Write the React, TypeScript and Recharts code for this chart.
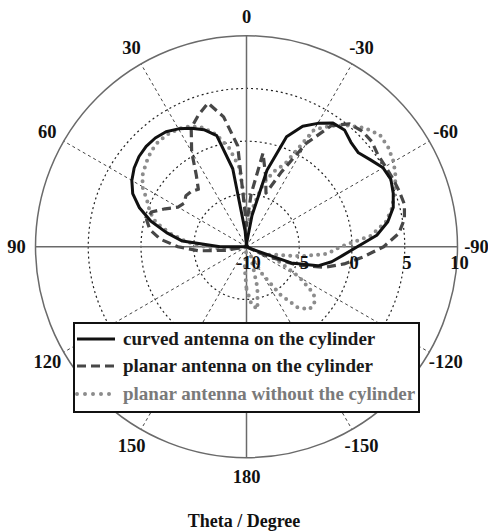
import React from 'react';
import {
  RadarChart,
  Radar,
  PolarGrid,
  PolarAngleAxis,
  PolarRadiusAxis,
  Legend,
} from 'recharts';

// theta in degrees, 0 at the top, positive counter-clockwise
const THETA = [
  -180, -175, -170, -165, -160, -155, -150, -145, -140, -135, -130, -125,
  -120, -115, -110, -105, -100, -95, -90, -85, -80, -75, -70, -65,
  -60, -55, -50, -45, -40, -35, -30, -25, -20, -15, -10, -5,
  0, 5, 10, 15, 20, 25, 30, 35, 40, 45, 50, 55,
  60, 65, 70, 75, 80, 85, 90, 95, 100, 105, 110, 115,
  120, 125, 130, 135, 140, 145, 150, 155, 160, 165, 170, 175,
];

// gain in dB
const CURVED = [
  -10, -10, -10, -10, -10, -10, -10, -10, -10, -10, -10, -10,
  -10, -9.5, -5.5, -3.0, -1.8, -0.8, 0.5, 2.4, 3.6, 4.4, 4.8, 5.1,
  4.95, 4.35, 3.85, 4.0, 4.45, 4.3, 3.5, 2.6, 1.1, -2.5, -7, -9.5,
  -10, -8.5, -2.5, 0.9, 1.8, 2.4, 2.9, 3.3, 3.45, 3.45, 3.3, 3.0,
  2.55, 1.9, 0.8, -0.6, -2.3, -3.9, -7.5, -10, -10, -10, -10, -10,
  -10, -10, -10, -10, -10, -10, -10, -10, -10, -10, -10, -10,
];

const PLANAR = [
  -10, -10, -10, -10, -10, -10, -10, -10, -10, -10, -10, -10,
  -10, -8, -5, -2.4, -0.6, 1.1, 3.0, 4.5, 5.2, 5.5, 5.4, 5.3,
  5.2, 5.2, 5.5, 5.5, 5.2, 4.0, 1.3, -2.2, -4.6, -3.0, -1.0, -5,
  -8, -0.4, 2.5, 4.1, 3.3, 2.4, 0.4, -1.7, -2.9, -2.6, -2.5, -2.8,
  -2.5, -1.5, -0.4, -0.2, -0.7, -1.8, -3.5, -5.5, -8, -10, -10, -10,
  -10, -10, -10, -10, -10, -10, -10, -10, -10, -10, -10, -10,
];

const FREE = [
  -6, -4.5, -4.0, -6, -8.5, -9, -7, -4.5, -2.5, -1.6, -1.6, -2.2,
  -4.2, -6.5, -7.8, -7, -4.8, -2.3, -1.1, 1.8, 3.4, 4.3, 4.9, 5.6,
  6.1, 6.4, 6.5, 5.9, 5.0, 4.0, 2.8, -1.3, -2.4, -3.8, -6, -7.5,
  -7, -2.5, -0.5, 1.0, 2.0, 2.6, 2.9, 3.0, 3.0, 2.8, 2.4, 2.0,
  1.4, 0.4, -0.25, -1.1, -2.6, -4.2, -6, -7.5, -9, -10, -10, -10,
  -10, -10, -10, -10, -10, -10, -10, -10, -10, -10, -10, -8,
];

const ANGLE_TICKS = [-150, -120, -90, -60, -30, 0, 30, 60, 90, 120, 150, 180];
const SPOKE_TICKS = [-150, -120, -60, -30, 30, 60, 120, 150];
const CROSS_TICKS = [-90, 0, 90, 180];
const RADIUS_DOMAIN = [-10, 10];
const RADIUS_TICKS = [-10, -5, 0, 5, 10];
const RING_TICKS = [-5, 0, 5];

const OUTER_R = 211;
// grid circles: same linear mapping the radius axis uses
const ringRadius = (v: number) =>
  ((v - RADIUS_DOMAIN[0]) / (RADIUS_DOMAIN[1] - RADIUS_DOMAIN[0])) * OUTER_R;

const SERIES = [
  { key: 'curved', name: 'curved antenna on the cylinder', color: '#111', width: 3, dash: undefined, text: '#1a1a1a' },
  { key: 'planar', name: 'planar antenna on the cylinder', color: '#474747', width: 3.2, dash: '9 5', text: '#1a1a1a' },
  { key: 'free', name: 'planar antenna without the cylinder', color: '#8c8c8c', width: 4, dash: '0 7', text: '#7a7a7a' },
];

const data = THETA.map((t, i) => ({ theta: t, curved: CURVED[i], planar: PLANAR[i], free: FREE[i] }));

const FONT = '"Liberation Serif", "Times New Roman", serif';

const AngleTick = (props: any) => {
  const { x, y, payload } = props;
  return (
    <text x={x} y={y} textAnchor="middle" dominantBaseline="central"
      fontFamily={FONT} fontWeight="bold" fontSize={18.5} fill="#111">
      {payload.value}
    </text>
  );
};

const RadiusTick = (props: any) => {
  const { x, y, payload } = props;
  return (
    <text x={x + 2} y={y + 16} textAnchor="middle" dominantBaseline="central"
      fontFamily={FONT} fontWeight="bold" fontSize={18.5} fill="#111">
      {payload.value}
    </text>
  );
};

const LegendBox = () => (
  <div style={{
    width: 347, height: 91, boxSizing: 'border-box', border: '2px solid #111',
    background: '#fff', padding: '1px 0',
  }}>
    {SERIES.map((s) => (
      <div key={s.key} style={{ display: 'flex', alignItems: 'center', height: 27.5 }}>
        <svg width={48} height={10} style={{ flex: 'none' }}>
          <line x1={2} y1={5} x2={40} y2={5} stroke={s.color} strokeWidth={s.dash === '0 7' ? 4 : 3}
            strokeDasharray={s.dash === '0 7' ? '0 8' : s.dash} strokeLinecap={s.dash === '0 7' ? 'round' : 'butt'} />
        </svg>
        <span style={{ fontFamily: FONT, fontWeight: 'bold', fontSize: 19, color: s.text, whiteSpace: 'nowrap' }}>
          {s.name}
        </span>
      </div>
    ))}
  </div>
);

export default function App() {
  return (
    <div style={{ position: 'absolute', left: 0, top: 0, width: 488, height: 531, background: '#fff' }}>
      <RadarChart width={488} height={531} data={data} cx={246.5} cy={246.7}
        innerRadius={0} outerRadius={OUTER_R} startAngle={-90} endAngle={270}
        margin={{ top: 0, right: 0, bottom: 0, left: 0 }}>
        <PolarAngleAxis dataKey="theta" type="number" domain={[-180, 180]} ticks={ANGLE_TICKS}
          tick={<AngleTick />} tickLine={false} axisLine={false} tickSize={19} />
        <PolarAngleAxis angleAxisId="spokes" dataKey="theta" type="number" domain={[-180, 180]}
          ticks={SPOKE_TICKS} tick={false} tickLine={false} axisLine={false} />
        <PolarAngleAxis angleAxisId="cross" dataKey="theta" type="number" domain={[-180, 180]}
          ticks={CROSS_TICKS} tick={false} tickLine={false} axisLine={false} />
        <PolarRadiusAxis type="number" domain={RADIUS_DOMAIN} ticks={RADIUS_TICKS} angle={0}
          tick={<RadiusTick />} tickLine={false} axisLine={false} />
        <PolarGrid gridType="circle" angleAxisId="spokes" polarRadius={[]}
          stroke="#444" strokeWidth={1} strokeDasharray="3 3" />
        <PolarGrid gridType="circle" angleAxisId="cross" radialLines={false}
          polarRadius={RING_TICKS.map(ringRadius)}
          stroke="#222" strokeWidth={1.2} strokeDasharray="2 3" />
        <PolarGrid gridType="circle" angleAxisId="cross" radialLines={false}
          polarRadius={[ringRadius(RADIUS_DOMAIN[1])]}
          stroke="#6a6a6a" strokeWidth={1.5} />
        <PolarGrid gridType="circle" angleAxisId="cross" polarRadius={[]}
          stroke="#6a6a6a" strokeWidth={1.5} />
        {[...SERIES].reverse().map((s) => (
          <Radar key={s.key} name={s.name} dataKey={s.key} stroke={s.color} strokeWidth={s.width}
            strokeDasharray={s.dash} strokeLinecap={s.dash === '0 7' ? 'round' : 'butt'}
            strokeLinejoin="round" fill="none" fillOpacity={0} dot={false} isAnimationActive={false} />
        ))}
        <Legend content={<LegendBox />} layout="vertical" verticalAlign="top" align="left"
          wrapperStyle={{ left: 73, top: 322, width: 347, height: 91 }} />
      </RadarChart>
      <div style={{
        position: 'absolute', left: 0, top: 511, width: 488, textAlign: 'center',
        fontFamily: FONT, fontWeight: 'bold', fontSize: 18, color: '#111',
      }}>
        Theta / Degree
      </div>
    </div>
  );
}
